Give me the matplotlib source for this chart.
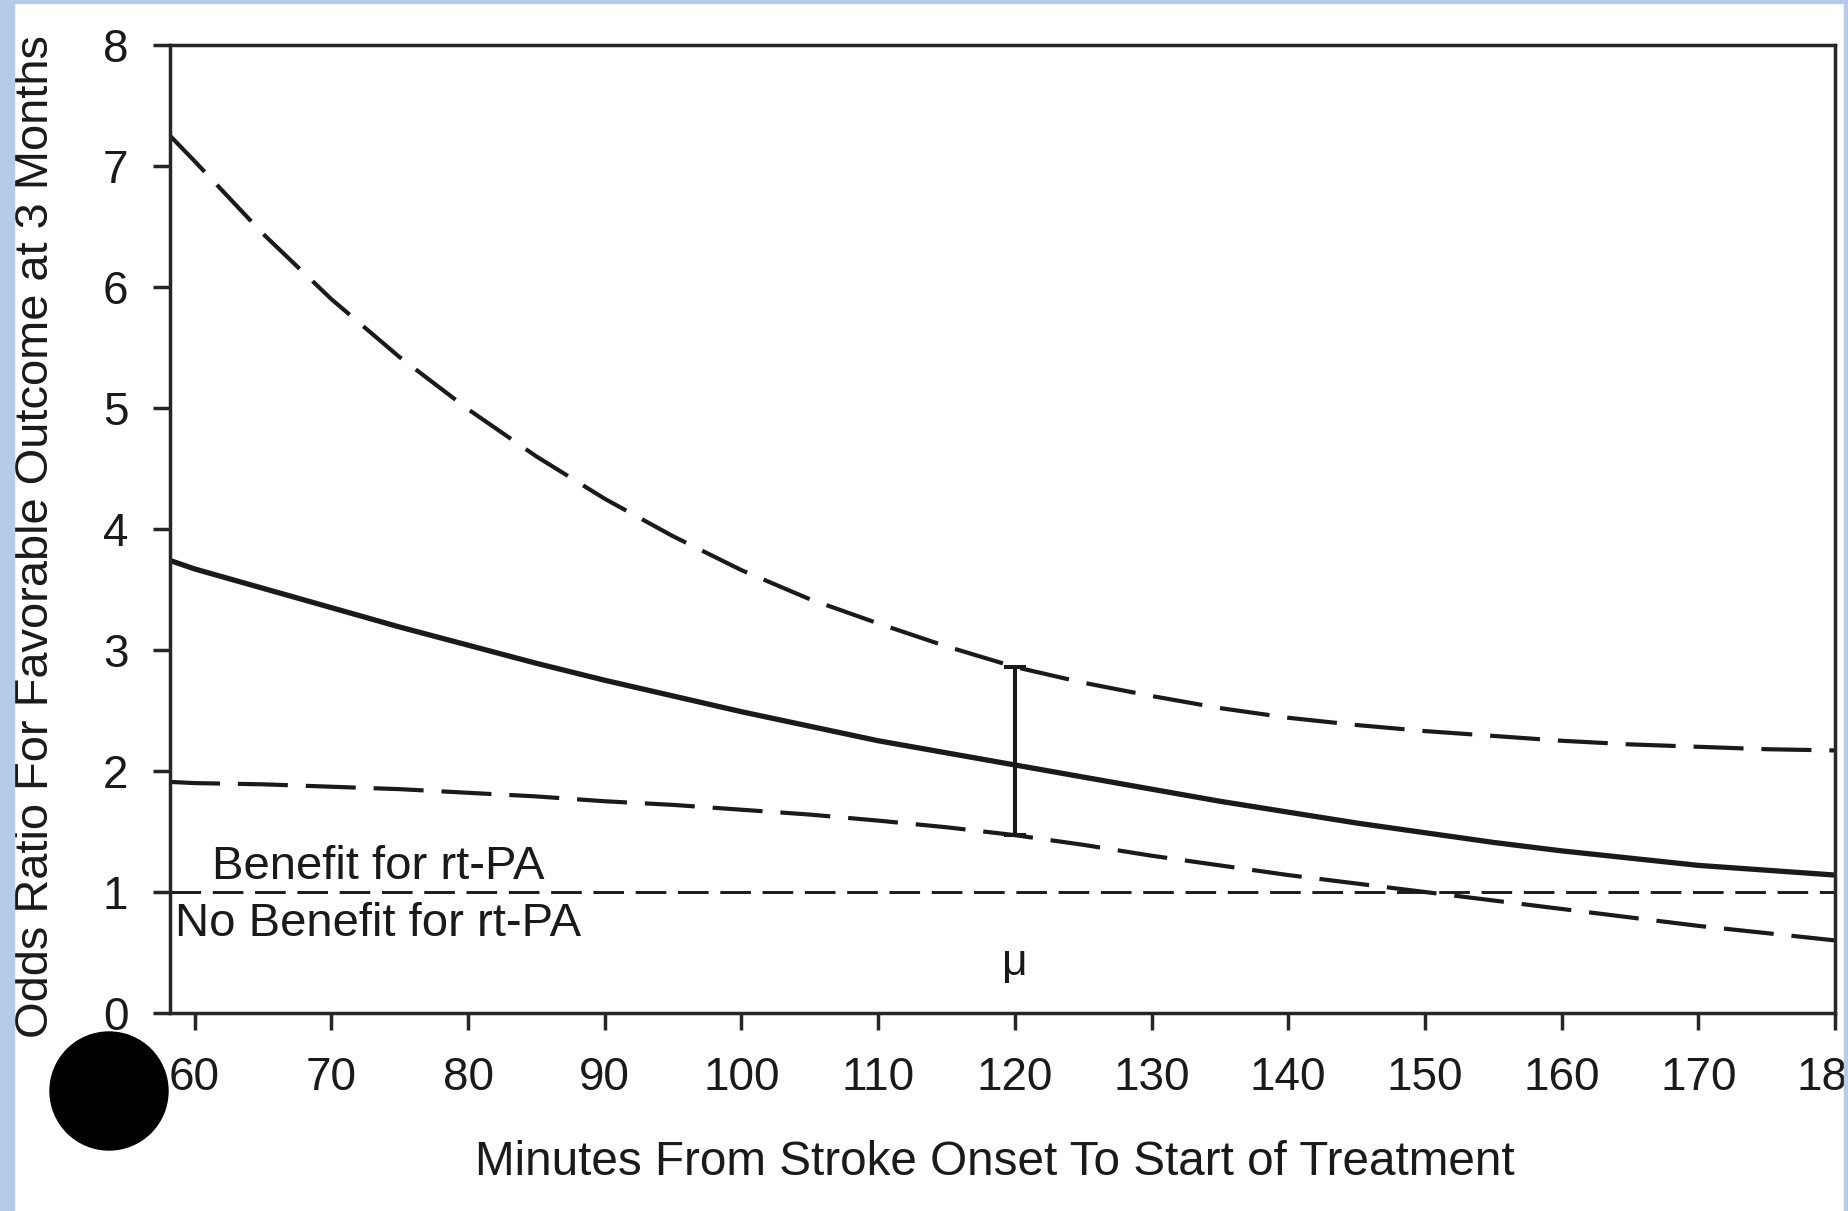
import matplotlib
matplotlib.use('Agg')
import matplotlib.pyplot as plt
from matplotlib.patches import Rectangle, Ellipse

plt.rcParams['font.family'] = ['Liberation Sans', 'DejaVu Sans']

# minutes from onset
minutes = [58.2, 60, 65, 70, 75, 80, 85, 90, 95, 100, 105, 110, 115, 120,
           125, 130, 135, 140, 145, 150, 155, 160, 165, 170, 175, 180]
odds_ratio = [3.74, 3.67, 3.51, 3.35, 3.19, 3.04, 2.89, 2.75, 2.62, 2.49, 2.37, 2.25, 2.15, 2.05,
              1.95, 1.85, 1.75, 1.66, 1.57, 1.49, 1.41, 1.34, 1.28, 1.22, 1.18, 1.14]
upper_ci = [7.25, 7.04, 6.44, 5.90, 5.42, 4.99, 4.60, 4.25, 3.94, 3.66, 3.42, 3.22, 3.03, 2.86,
            2.73, 2.62, 2.52, 2.44, 2.38, 2.33, 2.29, 2.25, 2.22, 2.20, 2.18, 2.17]
lower_ci = [1.91, 1.90, 1.89, 1.87, 1.85, 1.82, 1.79, 1.75, 1.72, 1.68, 1.64, 1.59, 1.535, 1.47,
            1.39, 1.30, 1.22, 1.14, 1.07, 1.00, 0.93, 0.86, 0.79, 0.72, 0.66, 0.60]

mean_time = 120
bar_mid = 2.05
bar_low = 1.47
bar_high = 2.86

xticks = [60, 70, 80, 90, 100, 110, 120, 130, 140, 150, 160, 170, 180]
yticks = [0, 1, 2, 3, 4, 5, 6, 7, 8]

ink = '#1a1a1a'
W, H = 1849, 1211
fig = plt.figure(figsize=(W / 100, H / 100), dpi=100, facecolor='white')
ax = fig.add_axes([170 / W, 1 - 1013 / H, (1835 - 170) / W, (1013 - 45) / H])

ax.plot(minutes, odds_ratio, color=ink, lw=3.8, solid_capstyle='butt', solid_joinstyle='round')
ax.plot(minutes, upper_ci, color=ink, lw=3.0, dashes=(12, 4.3))
ax.plot(minutes, lower_ci, color=ink, lw=3.0, dashes=(12, 4.3))
ax.axhline(1, color=ink, lw=2.1, dashes=(10.5, 4))
ax.errorbar([mean_time], [bar_mid], yerr=[[bar_mid - bar_low], [bar_high - bar_mid]],
            fmt='none', ecolor=ink, elinewidth=2.9, capsize=8, capthick=2.9)

ax.text(61.3, 1.11, 'Benefit for rt-PA', fontsize=34, color=ink, va='baseline')
ax.text(58.6, 0.64, 'No Benefit for rt-PA', fontsize=34, color=ink, va='baseline')
ax.text(mean_time, 0.41, 'μ', fontsize=32, color=ink, ha='center', va='center')

ax.set_xlim(58.2, 180)
ax.set_ylim(0, 8)
ax.set_xticks(xticks)
ax.set_yticks(yticks)
ax.set_xticks([mean_time], minor=True)
for s in ax.spines.values():
    s.set_color('#262626')
    s.set_linewidth(2.5)
ax.tick_params(axis='both', which='major', direction='out', length=12, width=2.5,
               color='#262626', labelsize=33, labelcolor=ink)
ax.tick_params(axis='x', which='major', pad=19)
ax.tick_params(axis='y', which='major', pad=18)
ax.tick_params(axis='x', which='minor', direction='in', length=15, width=2.5, color='#262626')

fig.text(995 / W, 1 - 1175 / H, 'Minutes From Stroke Onset To Start of Treatment',
         fontsize=34.3, color=ink, ha='center', va='baseline')
fig.text(36 / W, 1 - 537 / H, 'Odds Ratio For Favorable Outcome at 3 Months',
         fontsize=33.8, color=ink, ha='center', va='center', rotation=90)

# slide frame and marker from the original screenshot
blue = '#b5cbe8'
fig.add_artist(Rectangle((0, 0), 14 / W, 1, transform=fig.transFigure, color=blue, zorder=10))
fig.add_artist(Rectangle((0, 1 - 3 / H), 1, 3 / H, transform=fig.transFigure, color=blue, zorder=10))
fig.add_artist(Rectangle((1844 / W, 0), 5 / W, 1, transform=fig.transFigure, color=blue, zorder=10))
fig.add_artist(Ellipse((109 / W, 1 - 1091 / H), 118 / W, 118 / H, transform=fig.transFigure,
                       color='black', zorder=11))

fig.savefig('out.png', dpi=100, facecolor='white')
